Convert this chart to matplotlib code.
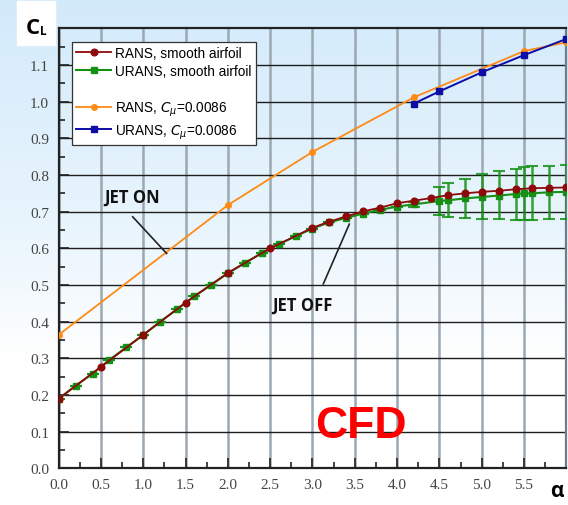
import matplotlib
matplotlib.use("Agg")
import matplotlib.pyplot as plt
import numpy as np
from matplotlib.colors import LinearSegmentedColormap
from matplotlib.lines import Line2D
from matplotlib.ticker import MultipleLocator

# ---------------------------------------------------------------------------
# Lift curves
# ---------------------------------------------------------------------------

# RANS, smooth airfoil
rans_alpha = [0.0, 0.5, 1.0, 1.5, 2.0, 2.5, 3.0, 3.2, 3.4, 3.6, 3.8, 4.0,
              4.2, 4.4, 4.6, 4.8, 5.0, 5.2, 5.4, 5.6, 5.8, 6.0]
rans_cl = [0.190, 0.277, 0.364, 0.452, 0.533, 0.600, 0.656, 0.673, 0.687,
           0.701, 0.711, 0.723, 0.730, 0.737, 0.745, 0.750, 0.754, 0.757,
           0.761, 0.764, 0.765, 0.766]

# URANS, smooth airfoil
urans_alpha = [0.0, 0.2, 0.4, 0.6, 0.8, 1.0, 1.2, 1.4, 1.6, 1.8, 2.0, 2.2,
               2.4, 2.6, 2.8, 3.0, 3.2, 3.4, 3.6, 3.8, 4.0, 4.2, 4.5, 4.6,
               4.8, 5.0, 5.2, 5.4, 5.5, 5.6, 5.8, 6.0]
urans_cl = [0.190, 0.225, 0.258, 0.296, 0.330, 0.364, 0.400, 0.434, 0.469,
            0.500, 0.532, 0.560, 0.587, 0.611, 0.633, 0.654, 0.671, 0.683,
            0.695, 0.705, 0.714, 0.720, 0.729, 0.731, 0.736, 0.740, 0.744,
            0.748, 0.750, 0.750, 0.753, 0.754]
# oscillation band (min / max of CL) for the unsteady points
urans_cl_lo = [0.190, 0.225, 0.258, 0.296, 0.330, 0.364, 0.400, 0.434, 0.469,
               0.500, 0.532, 0.560, 0.587, 0.611, 0.633, 0.654, 0.671, 0.683,
               0.695, 0.705, 0.714, 0.714, 0.690, 0.685, 0.682, 0.680, 0.680,
               0.678, 0.678, 0.678, 0.680, 0.680]
urans_cl_hi = [0.190, 0.225, 0.258, 0.296, 0.330, 0.364, 0.400, 0.434, 0.469,
               0.500, 0.532, 0.560, 0.587, 0.611, 0.633, 0.654, 0.671, 0.683,
               0.695, 0.705, 0.714, 0.726, 0.768, 0.778, 0.790, 0.803, 0.811,
               0.817, 0.821, 0.824, 0.825, 0.828]

# RANS, C_mu = 0.0086
rans_jet_alpha = [0.0, 2.0, 3.0, 4.2, 5.5, 6.0]
rans_jet_cl = [0.364, 0.718, 0.863, 1.012, 1.138, 1.162]

# URANS, C_mu = 0.0086
urans_jet_alpha = [4.2, 4.5, 5.0, 5.5, 6.0]
urans_jet_cl = [0.995, 1.028, 1.080, 1.127, 1.171]

x_ticks = [0.0, 0.5, 1.0, 1.5, 2.0, 2.5, 3.0, 3.5, 4.0, 4.5, 5.0, 5.5]
y_ticks = [0.0, 0.1, 0.2, 0.3, 0.4, 0.5, 0.6, 0.7, 0.8, 0.9, 1.0, 1.1]

RED = "#8c0a0a"
GREEN = "#149114"
ORANGE = "#ff8a14"
BLUE = "#0c0ca6"

fig = plt.figure(figsize=(5.68, 5.06), dpi=100)

# light blue wash fading to white
bg = fig.add_axes([0, 0, 1, 1], zorder=-10)
bg_cmap = LinearSegmentedColormap.from_list(
    "wash", [(0.0, "#d3eafb"), (0.45, "#e9f5fd"), (0.72, "#ffffff"), (1.0, "#ffffff")])
bg.imshow(np.linspace(0, 1, 256).reshape(-1, 1), aspect="auto", cmap=bg_cmap,
          extent=[0, 1, 0, 1], origin="upper")
bg.set_axis_off()

ax = fig.add_axes([0.1033, 0.0725, 0.8937, 0.8695])
ax.set_facecolor("none")

ax.errorbar(urans_alpha, urans_cl,
            yerr=[np.array(urans_cl) - np.array(urans_cl_lo),
                  np.array(urans_cl_hi) - np.array(urans_cl)],
            fmt="none", ecolor=GREEN, elinewidth=1.8, capsize=4, capthick=1.5,
            alpha=0.85, zorder=3)
ax.plot(urans_alpha, urans_cl, "-s", color=GREEN, lw=1.5, ms=4.5, zorder=4,
        label="URANS, smooth airfoil")
ax.plot(rans_alpha, rans_cl, "-o", color=RED, lw=1.3, ms=4.8, zorder=5,
        label="RANS, smooth airfoil")
ax.plot(rans_jet_alpha, rans_jet_cl, "-o", color=ORANGE, lw=1.3, ms=4,
        zorder=4, label=r"RANS, $C_\mu$=0.0086")
ax.plot(urans_jet_alpha, urans_jet_cl, "-s", color=BLUE, lw=1.4, ms=4.5,
        zorder=5, label=r"URANS, $C_\mu$=0.0086")

ax.set_xlim(0, 6)
ax.set_ylim(0, 1.2)
ax.set_xticks(x_ticks)
ax.set_yticks(y_ticks)
ax.set_xticklabels([f"{v:.1f}" for v in x_ticks])
ax.set_yticklabels([f"{v:.1f}" for v in y_ticks])
ax.xaxis.set_minor_locator(MultipleLocator(0.25))
ax.yaxis.set_minor_locator(MultipleLocator(0.05))
ax.tick_params(which="major", direction="in", length=7, width=1.2,
               color="#222222", labelsize=11, labelcolor="#444444", pad=7)
ax.tick_params(which="minor", direction="in", length=4, width=1.2,
               color="#222222")
for lbl in ax.get_xticklabels() + ax.get_yticklabels():
    lbl.set_family("Liberation Serif")

ax.xaxis.grid(True, color="#9ca8b1", lw=1.8, zorder=1)
ax.yaxis.grid(True, color="#1e1e1e", lw=1.0, zorder=1)
ax.set_axisbelow(True)
for side in ["left", "bottom", "top"]:
    ax.spines[side].set_linewidth(1.6)
    ax.spines[side].set_color("#222222")
ax.spines["right"].set_linewidth(1.6)
ax.spines["right"].set_color("#6f7d88")

# legend with a blank row between smooth and jet cases
handles, labels = ax.get_legend_handles_labels()
order = [1, 0, 2, 3]
hs = [handles[i] for i in order]
ls = [labels[i] for i in order]
blank = Line2D([], [], color="none")
hs.insert(2, blank)
ls.insert(2, " ")
leg = ax.legend(hs, ls, loc="upper left", bbox_to_anchor=(0.026, 0.97),
                borderaxespad=0, fancybox=False, framealpha=1,
                edgecolor="#333333", handlelength=2.6,
                handletextpad=0.3, labelspacing=0.3, borderpad=0.3,
                prop={"family": "Liberation Sans", "size": 9.8})
leg.get_frame().set_linewidth(0.9)
leg.set_zorder(10)

# annotations
ax.text(0.866, 0.74, "JET ON", fontsize=12, fontweight="bold",
        family="Open Sans", ha="center", va="center", color="#111111")
ax.plot([0.875, 1.276], [0.686, 0.586], color="#222222", lw=1.2, zorder=6)
ax.text(2.876, 0.447, "JET OFF", fontsize=12, fontweight="bold",
        family="Open Sans", ha="center", va="center", color="#111111")
ax.plot([3.128, 3.435], [0.503, 0.666], color="#222222", lw=1.2, zorder=6)
ax.text(3.57, 0.118, "CFD", fontsize=32, fontweight="bold",
        family="Liberation Sans", ha="center", va="center", color="#ff0000")

# axis titles on white patches
fig.patches.append(plt.Rectangle((17 / 568, 1 - 46 / 506), 38 / 568, 44 / 506,
                                 transform=fig.transFigure, color="white",
                                 zorder=-5))
fig.text(26 / 568, 1 - 34 / 506, "C", fontsize=16, fontweight="bold",
         family="Open Sans", ha="left", va="baseline")
fig.text(40 / 568, 1 - 35 / 506, "L", fontsize=8.5, fontweight="bold",
         family="Open Sans", ha="left", va="baseline")
fig.patches.append(plt.Rectangle((550 / 568, 0), 18 / 568, 36 / 506,
                                 transform=fig.transFigure, color="white",
                                 zorder=-5))
fig.text(557 / 568, 1 - 492 / 506, "α", fontsize=15, fontweight="bold",
         family="Open Sans", ha="center", va="center")

fig.savefig("out.png", dpi=100)
